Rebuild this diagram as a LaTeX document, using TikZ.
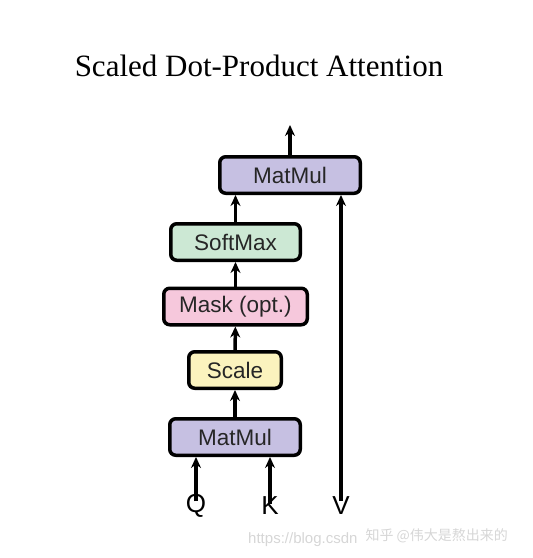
\documentclass[tikz,border=0pt]{standalone}
\usepackage{fontspec}
\setmainfont{Liberation Serif}
\newfontfamily\boxfont{Liberation Sans}
\newfontfamily\cjkfont{Noto Sans CJK SC}
\definecolor{ATTpurple}{HTML}{C6C0E2}
\definecolor{ATTgreen}{HTML}{CCE8D4}
\definecolor{ATTpink}{HTML}{F6C8DC}
\definecolor{ATTyellow}{HTML}{FBF3BE}
\definecolor{ATTmark}{HTML}{D6D6D6}
\usetikzlibrary{arrows.meta, positioning}

\begin{document}
\begin{tikzpicture}[x=1pt, y=-1pt,
      block/.style={draw=black, line width=3.5pt, rounded corners=6pt,
         minimum height=36.5pt, inner sep=0pt, text=black!85,
         font=\boxfont\fontsize{22.5}{24}\selectfont},
      flow/.style={-{Stealth[length=11pt,width=10pt]}, line width=3.5pt},
      input/.style={font=\boxfont\fontsize{26}{28}\selectfont, inner sep=0pt}]
   \useasboundingbox (0,0) rectangle (533,558);
   % Title
   \node[font=\fontsize{31}{34}\selectfont] (title) at (259,66) {Scaled Dot-Product Attention};
   % Blocks, bottom to top
   \node[block, fill=ATTpurple, minimum width=130.5pt] (mmlow) at (235,437) {MatMul};
   \node[block, fill=ATTyellow, minimum width=92.5pt] (scale) at (235,370) {Scale};
   \node[block, fill=ATTpink, minimum width=143.5pt] (mask) at (235.5,306.5) {Mask (opt.)};
   \node[block, fill=ATTgreen, minimum width=129.5pt] (softmax) at (235.5,242) {SoftMax};
   \node[block, fill=ATTpurple, minimum width=140.5pt] (mmtop) at (290,175) {MatMul};
   % Inputs
   \node[input] (q) at (196,506) {Q};
   \node[input] (k) at (270,506) {K};
   \node[input] (v) at (341,506) {V};
   \coordinate (out) at (290,125);
   % Arrows
   \draw[flow] ([yshift=-7pt]q.north) -- (q.north |- mmlow.south);
   \draw[flow] ([yshift=-7pt]k.north) -- (k.north |- mmlow.south);
   \draw[flow] (mmlow) -- (scale);
   \draw[flow] (scale) -- (mask);
   \draw[flow] (mask) -- (softmax);
   \draw[flow] (softmax.north) -- (softmax.north |- mmtop.south);
   \draw[flow] ([yshift=-4pt]v.north) -- (v.north |- mmtop.south);
   \draw[flow] (mmtop) -- (out);
   % Watermark
   \node[anchor=east, text=ATTmark, font=\boxfont\fontsize{15}{16}\selectfont] (url) at (361,540) {https://blog.csdn};
   \node[anchor=west, text=ATTmark, font=\cjkfont\fontsize{14}{16}\selectfont] (mark) at (362,536) {知乎 @伟大是熬出来的};
\end{tikzpicture}
\end{document}
